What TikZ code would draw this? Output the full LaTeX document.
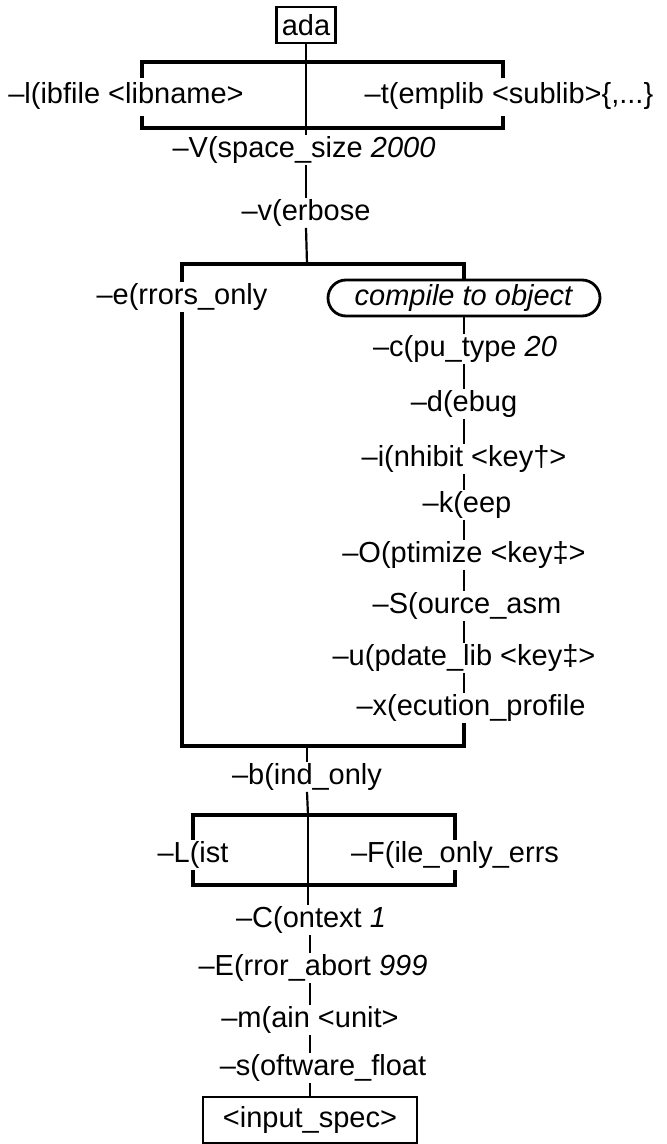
\documentclass[tikz,border=0pt]{standalone}
\usepackage{fontspec}
\setmainfont{Liberation Sans}
\newcommand{\od}{\textendash}
\begin{document}
\begin{tikzpicture}[x=0.5pt,y=-0.5pt,
  lbl/.style={inner sep=0.5pt, font=\fontsize{14.5}{16}\selectfont},
  boxed/.style={lbl, draw, line width=1.4pt, minimum height=18pt},
  conn/.style={line width=1.1pt},
  bracket/.style={line width=1.6pt, line join=miter}]
\useasboundingbox (0,0) rectangle (666,1144);

% ---- top
\node[boxed, inner xsep=2.5pt] (ada) at (306,25) {ada};
\node[lbl] (lib) at (126,96) {\od l(ibfile <libname>};
\node[lbl] (tmp) at (509,96) {\od t(emplib <sublib>\{,...\}};
\node[lbl] (V) at (304,150) {\od V(space\_size \textit{2000}};
\node[lbl] (v) at (306,213) {\od v(erbose};

\draw[bracket] (142,78) -- (142,62) -- (503,62) -- (503,78);
\draw[bracket] (142,116) -- (142,128) -- (503,128) -- (503,116);
\draw[conn] (ada.south) -- (ada.south |- V.north);
\draw[conn] (V.south -| ada.south) -- (ada.south |- v.north);

% ---- group 2
\coordinate (b2t) at (307,264);
\coordinate (b2b) at (307,746);
\node[lbl] (e) at (182,297) {\od e(rrors\_only};
\node[boxed, rounded corners=9pt, minimum width=136pt] (cmp) at (464,298) {\textit{compile to object}};
\node[lbl] (c) at (465,349) {\od c(pu\_type \textit{20}};
\node[lbl] (d) at (464,404) {\od d(ebug};
\node[lbl] (i) at (464,459) {\od i(nhibit <key\textdagger>};
\node[lbl] (k) at (467,505) {\od k(eep};
\node[lbl] (O) at (464,555) {\od O(ptimize <key\textdaggerdbl>};
\node[lbl] (S) at (467,606) {\od S(ource\_asm};
\node[lbl] (u) at (464,658) {\od u(pdate\_lib <key\textdaggerdbl>};
\node[lbl] (x) at (471,708) {\od x(ecution\_profile};

\draw[conn] (v.south -| ada.south) -- (b2t);
\draw[bracket] (e.north) |- (b2t) -| (cmp.north);
\draw[bracket] (e.south) |- (b2b) -| (x.south -| cmp.south);
\foreach \a/\b in {cmp/c, c/d, d/i, i/k, k/O, O/S, S/u, u/x}
  \draw[conn] (\a.south -| cmp.south) -- (\b.north -| cmp.south);

% ---- group 3
\node[lbl] (b) at (307,777) {\od b(ind\_only};
\coordinate (b3t) at (308,815);
\coordinate (b3b) at (308,885);
\node[lbl] (L) at (193,855) {\od L(ist};
\node[lbl] (F) at (455,855) {\od F(ile\_only\_errs};
\draw[conn] (b2b) -- (b2b |- b.north);
\draw[conn] (b.south -| b2b) -- (b3t);
\draw[bracket] (L.north) |- (b3t) -| (F.north);
\draw[bracket] (L.south) |- (b3b) -| (F.south);

% ---- bottom
\node[lbl] (C) at (311,920) {\od C(ontext \textit{1}};
\node[lbl] (E) at (313,968) {\od E(rror\_abort \textit{999}};
\node[lbl] (m) at (310,1020) {\od m(ain <unit>};
\node[lbl] (s) at (323,1068) {\od s(oftware\_float};
\node[boxed, inner xsep=10pt, minimum height=23pt] (inp) at (310,1120) {<input\_spec>};
\draw[conn] (b3t) -- (b3t |- C.north);
\draw[conn] (C.south -| inp.north) -- (E.north -| inp.north);
\draw[conn] (E.south -| inp.north) -- (m.north -| inp.north);
\draw[conn] (m.south -| inp.north) -- (s.north -| inp.north);
\draw[conn] (s.south -| inp.north) -- (inp.north);
\end{tikzpicture}
\end{document}
